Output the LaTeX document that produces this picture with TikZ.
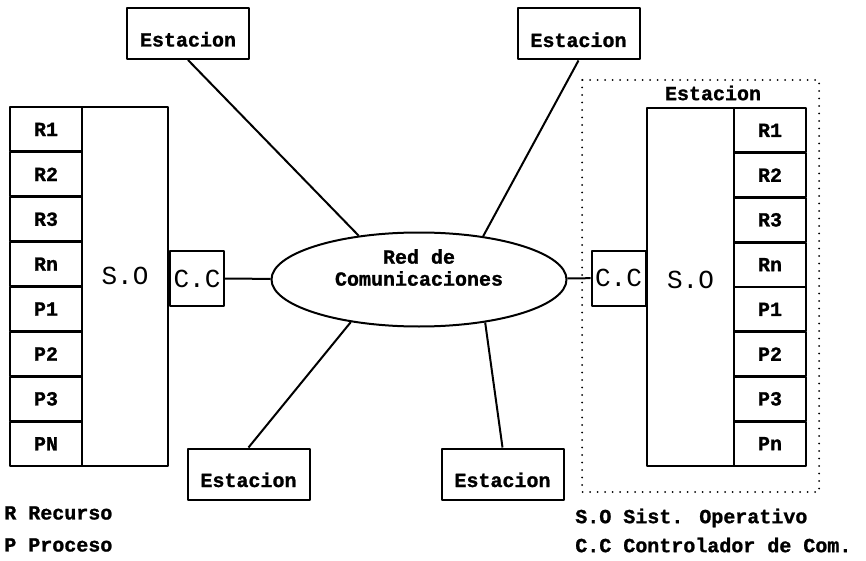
\documentclass[tikz,border=0pt]{standalone}
\usepackage{fontspec}
\newfontfamily\dotfont{Liberation Mono}[BoldFeatures={FakeBold=1.2}]
\usetikzlibrary{shapes.geometric}
\begin{document}
\begin{tikzpicture}[x=1pt, y=-1pt, line width=2pt, line join=round, font={\dotfont\bfseries\fontsize{20}{22}\selectfont},
	cell/.style={draw, minimum width=72pt, minimum height=44pt, inner sep=0pt},
	sobox/.style={draw, minimum width=86pt, minimum height=359pt, inner sep=0pt},
	estbox/.style={draw, minimum width=122pt, minimum height=51pt, inner sep=0pt, text height=26pt, text depth=0pt},
	bigtxt/.style={font={\dotfont\fontsize{26}{28}\selectfont}},
	ccbox/.style={draw, bigtxt, minimum width=54pt, minimum height=55pt, inner sep=0pt},
	dots/.style={line width=2pt, line cap=round, dash pattern=on 0pt off 7.5pt}]
	\useasboundingbox (0,0) rectangle (866,561);
	\foreach \t [count=\i] in {R1,R2,R3,Rn,P1,P2,P3,PN} \node[cell] (l\i) at (46,{107+44.9*\i-22.45}) {\t};
	\foreach \t [count=\i] in {R1,R2,R3,Rn,P1,P2,P3,Pn} \node[cell] (r\i) at (770,{108+44.75*\i-22.4}) {\t};
	\node[sobox] (soL) at (125,286.5) {};
	\node[bigtxt] (soLtxt) at ([yshift=11pt]soL.center) {S.O};
	\node[sobox, minimum width=87pt, minimum height=358pt] (soR) at (690.5,287) {};
	\node[bigtxt] (soRtxt) at ([yshift=7pt]soR.center) {S.O};
	\node[ccbox] (ccL) at (197,278.5) {C.C};
	\node[ccbox] (ccR) at (618.5,278) {C.C};
	\node[ellipse, draw, minimum width=295pt, minimum height=94pt, inner sep=0pt] (net) at (419,279.5) {};
	\node[align=center] (nettxt) at ([yshift=12pt]net.center) {Red de\\Comunicaciones};
	\node[estbox] (st1) at (188,33.5) {Estacion};
	\node[estbox] (st2) at (578.5,34) {Estacion};
	\node[estbox] (st3) at (248.5,474) {Estacion};
	\node[estbox] (st4) at (502.5,474) {Estacion};
	\draw (st1.south) -- (net.144);
	\draw (st2.south) -- (net.34);
	\draw (st3.north) -- (net.212);
	\draw (st4.north) -- (net.327);
	\draw (ccL) -- (net);
	\draw (ccR) -- (net);
	\draw[dots] (582,80) rectangle (819,492);
	\node (st5) at (713,93) {Estacion};
	\node[anchor=west] (legR) at (0,513) {R Recurso};
	\node[anchor=west] (legP) at (0,545) {P Proceso};
	\node[anchor=west] (legSO) at (571,518) {S.O Sist. Operativo};
	\node[anchor=west] (legCC) at (571,545) {C.C Controlador de Com.};
\end{tikzpicture}
\end{document}
